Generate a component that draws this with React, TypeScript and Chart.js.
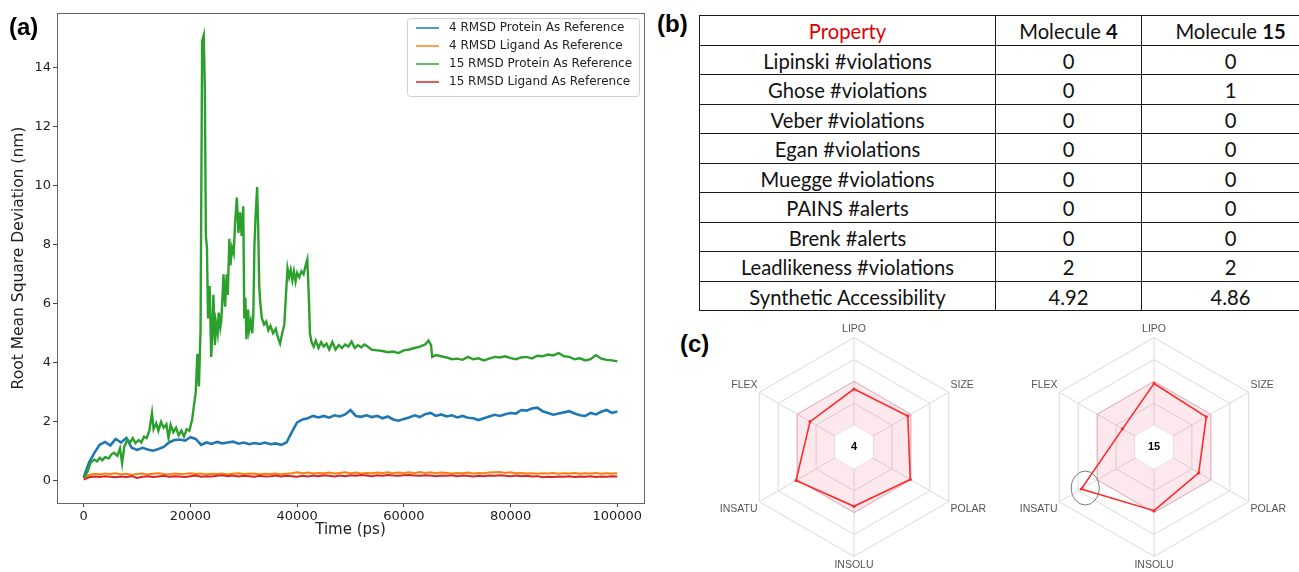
import React, { useEffect, useRef } from "react";
import { Chart, registerables } from "chart.js";
Chart.register(...registerables);

// ---------- (a) RMSD trajectories ----------
const TIME_PS = [
  0, 1000, 2000, 3000, 4000, 5000, 6000, 7000, 8000, 9000,
  10000, 11000, 12000, 13000, 14000, 15000, 16000, 17000, 18000, 19000,
  20000, 21000, 22000, 23000, 24000, 25000, 26000, 27000, 28000, 29000,
  30000, 31000, 32000, 33000, 34000, 35000, 36000, 37000, 38000, 39000,
  40000, 41000, 42000, 43000, 44000, 45000, 46000, 47000, 48000, 49000,
  50000, 51000, 52000, 53000, 54000, 55000, 56000, 57000, 58000, 59000,
  60000, 61000, 62000, 63000, 64000, 65000, 66000, 67000, 68000, 69000,
  70000, 71000, 72000, 73000, 74000, 75000, 76000, 77000, 78000, 79000,
  80000, 81000, 82000, 83000, 84000, 85000, 86000, 87000, 88000, 89000,
  90000, 91000, 92000, 93000, 94000, 95000, 96000, 97000, 98000, 99000,
  100000,
];

const RMSD_4_PROTEIN = [
  0.12, 0.62, 0.95, 1.22, 1.32, 1.2, 1.42, 1.3, 1.45, 1.12,
  1.05, 1.12, 1.06, 1.02, 1.08, 1.15, 1.3, 1.38, 1.4, 1.36,
  1.48, 1.42, 1.22, 1.3, 1.25, 1.32, 1.27, 1.3, 1.33, 1.26,
  1.3, 1.24, 1.28, 1.25, 1.3, 1.24, 1.27, 1.22, 1.3, 1.65,
  1.98, 2.08, 2.12, 2.2, 2.15, 2.2, 2.14, 2.22, 2.18, 2.25,
  2.4, 2.2, 2.17, 2.22, 2.16, 2.2, 2.12, 2.18, 2.08, 2.04,
  2.1, 2.15, 2.22, 2.16, 2.26, 2.3, 2.2, 2.25, 2.18, 2.22,
  2.15, 2.2, 2.14, 2.12, 2.06, 2.12, 2.18, 2.24, 2.2, 2.26,
  2.3, 2.28, 2.4, 2.38, 2.45, 2.48, 2.36, 2.3, 2.24, 2.28,
  2.32, 2.36, 2.28, 2.22, 2.2, 2.3, 2.25, 2.34, 2.4, 2.3,
  2.35,
];

const RMSD_4_LIGAND = [
  0.1, 0.2, 0.24, 0.22, 0.25, 0.23, 0.26, 0.22, 0.24, 0.21,
  0.23, 0.25, 0.22, 0.24, 0.26, 0.23, 0.22, 0.25, 0.23, 0.24,
  0.26, 0.23, 0.25, 0.22, 0.24, 0.23, 0.25, 0.22, 0.24, 0.26,
  0.23, 0.25, 0.24, 0.22, 0.24, 0.23, 0.25, 0.22, 0.24, 0.26,
  0.29, 0.26, 0.28, 0.25, 0.27, 0.26, 0.28, 0.25, 0.27, 0.29,
  0.26, 0.28, 0.25, 0.27, 0.26, 0.28, 0.27, 0.29, 0.26, 0.28,
  0.27, 0.29, 0.26, 0.3, 0.27, 0.29, 0.26, 0.28, 0.27, 0.25,
  0.27, 0.26, 0.28, 0.25, 0.27, 0.26, 0.28, 0.29, 0.3, 0.27,
  0.29, 0.26, 0.27, 0.25, 0.26, 0.24, 0.26, 0.25, 0.27, 0.24,
  0.26, 0.25, 0.27, 0.24, 0.26, 0.25, 0.27, 0.24, 0.26, 0.25,
  0.26,
];

const RMSD_15_LIGAND = [
  0.04, 0.12, 0.15, 0.13, 0.16, 0.14, 0.12, 0.15, 0.13, 0.16,
  0.1, 0.14, 0.16, 0.13, 0.15, 0.17, 0.14, 0.16, 0.15, 0.13,
  0.16, 0.18, 0.14, 0.16, 0.15, 0.17, 0.19, 0.16, 0.18, 0.15,
  0.17, 0.16, 0.14, 0.17, 0.15, 0.16, 0.18, 0.15, 0.17, 0.16,
  0.14, 0.17, 0.15, 0.18, 0.16, 0.19, 0.17, 0.15, 0.18, 0.16,
  0.19, 0.17, 0.2, 0.18, 0.16, 0.19, 0.17, 0.2, 0.18, 0.17,
  0.19, 0.2, 0.18, 0.17, 0.19, 0.18, 0.16, 0.18, 0.17, 0.19,
  0.16, 0.18, 0.17, 0.15, 0.17, 0.16, 0.18, 0.17, 0.19, 0.17,
  0.16, 0.18, 0.16, 0.17, 0.15, 0.16, 0.12, 0.14, 0.13, 0.15,
  0.14, 0.16, 0.13, 0.15, 0.14, 0.16, 0.13, 0.15, 0.14, 0.16,
  0.15,
];

const TIME_15_PROTEIN_PS = [
  0, 700, 1300, 2000, 2500, 3000, 3500, 4000, 4700, 5200,
  5700, 6300, 6800, 7200, 7600, 8200, 8700, 9200, 9700, 10300,
  10800, 11300, 11800, 12300, 12800, 13100, 13600, 14000, 14500, 15000,
  15500, 15900, 16300, 16800, 17300, 17800, 18300, 18800, 19300, 19800,
  20300, 20700, 21000, 21300, 21600, 21900, 22200, 22500, 22700, 22900,
  23100, 23300, 23600, 23900, 24100, 24300, 24600, 24800, 25100, 25300,
  25600, 25800, 26000, 26200, 26500, 26800, 27000, 27300, 27500, 27800,
  28100, 28400, 28700, 29000, 29300, 29600, 29900, 30100, 30300, 30500,
  30800, 31000, 31300, 31600, 31800, 32000, 32200, 32500, 32700, 32900,
  33100, 33400, 33800, 34200, 34600, 35000, 35500, 36000, 36400, 36800,
  37200, 37600, 38000, 38200, 38500, 38800, 39100, 39400, 39700, 40000,
  40400, 40800, 41200, 41600, 41900, 42200, 42400, 42700, 43100, 43500,
  44000, 44500, 45000, 45500, 46000, 46600, 47200, 47800, 48400, 49000,
  49600, 50200, 50800, 51400, 52000, 52600, 53200, 54000, 55000, 56000,
  57000, 58000, 59000, 60000, 61000, 62000, 63000, 64000, 64600, 65100,
  65300, 66000, 67000, 68000, 69000, 70000, 71000, 72000, 73000, 74000,
  75000, 76000, 77000, 78000, 79000, 80000, 81000, 82000, 83000, 84000,
  85000, 86000, 87000, 88000, 89000, 90000, 91000, 92000, 93000, 94000,
  95000, 96000, 97000, 98000, 99000, 100000,
];

const RMSD_15_PROTEIN = [
  0.09, 0.3, 0.62, 0.72, 0.66, 0.78, 0.7, 0.8, 0.76, 0.9,
  0.95, 0.85, 1.1, 0.6, 1.15, 1.4, 1.3, 1.45, 1.28, 1.38,
  1.3, 1.5, 1.45, 1.7, 2.3, 1.75, 1.95, 1.7, 2.0, 1.8,
  1.92, 1.45, 1.9, 1.65, 1.8, 1.55, 1.7, 1.5, 1.75, 1.7,
  2.05, 2.6, 3.0, 4.3, 3.2, 5.1, 14.9, 15.1, 13.3, 8.3,
  7.9, 5.5, 6.6, 4.2, 5.0, 6.3, 4.6, 5.35, 5.0, 5.7,
  5.2, 5.45, 6.2, 7.0, 5.9, 7.0, 6.3, 8.2, 7.3, 7.9,
  7.7, 8.8, 9.6, 8.4, 9.1, 8.3, 9.3, 5.5, 6.2, 4.8,
  5.8, 5.1, 5.4, 5.0, 5.7, 8.0, 8.9, 9.95, 8.6, 6.6,
  6.0, 5.5, 5.3, 5.4, 5.1, 5.25, 5.0, 5.15, 4.85, 4.65,
  5.0, 5.3, 6.6, 7.2, 6.9, 7.15, 6.8, 7.1, 6.75, 7.05,
  6.9, 7.1, 7.0, 7.3, 7.5, 6.2, 5.0, 4.7, 4.55, 4.75,
  4.5, 4.7, 4.55, 4.65, 4.45, 4.7, 4.45, 4.6, 4.5, 4.62,
  4.55, 4.72, 4.5, 4.6, 4.52, 4.62, 4.55, 4.44, 4.42, 4.4,
  4.36, 4.38, 4.33, 4.42, 4.45, 4.5, 4.55, 4.62, 4.75, 4.6,
  4.2, 4.26, 4.22, 4.18, 4.12, 4.14, 4.1, 4.2, 4.12, 4.15,
  4.08, 4.14, 4.2, 4.18, 4.22, 4.16, 4.12, 4.18, 4.2, 4.15,
  4.24, 4.22, 4.28, 4.25, 4.33, 4.22, 4.2, 4.12, 4.15, 4.08,
  4.12, 4.26, 4.14, 4.1, 4.08, 4.05,
];

const SERIES_LABELS = [
  "4 RMSD Protein As Reference",
  "4 RMSD Ligand As Reference",
  "15 RMSD Protein As Reference",
  "15 RMSD Ligand As Reference",
];
const SERIES_COLORS = ["#1f77b4", "#ff7f0e", "#2ca02c", "#d62728"];
const X_TICKS = [0, 20000, 40000, 60000, 80000, 100000];
const Y_TICKS = [0, 2, 4, 6, 8, 10, 12, 14];

// ---------- (b) drug-likeness table ----------
const PROPERTIES = [
  "Lipinski #violations",
  "Ghose #violations",
  "Veber #violations",
  "Egan #violations",
  "Muegge #violations",
  "PAINS #alerts",
  "Brenk #alerts",
  "Leadlikeness #violations",
  "Synthetic Accessibility",
];
const MOLECULE_4 = ["0", "0", "0", "0", "0", "0", "0", "2", "4.92"];
const MOLECULE_15 = ["0", "1", "0", "0", "0", "0", "0", "2", "4.86"];

// ---------- (c) bioavailability radars ----------
const RADAR_AXES = ["LIPO", "SIZE", "POLAR", "INSOLU", "INSATU", "FLEX"];
const RADAR_4 = [2.65, 2.84, 2.97, 2.71, 3.06, 2.32];
const RADAR_15 = [2.9, 2.76, 2.36, 2.91, 3.84, 1.66];
const OPTIMAL_UPPER = [3, 3, 3, 3, 3, 3];
const OPTIMAL_LOWER = [1, 1, 1, 1, 1, 1];

const FONT = "DejaVu Sans";

const framePlugin = {
  id: "frame",
  afterDatasetsDraw(chart: any) {
    const { ctx, chartArea: a } = chart;
    ctx.save();
    ctx.strokeStyle = "#666";
    ctx.lineWidth = 1;
    ctx.strokeRect(a.left + 0.5, a.top + 0.5, a.right - a.left, a.bottom - a.top);
    ctx.restore();
  },
};

const boxLegendPlugin = {
  id: "boxLegend",
  afterDraw(chart: any) {
    const { ctx, chartArea: a } = chart;
    const ds = chart.data.datasets;
    const w = 232;
    const rowH = 18;
    const h = ds.length * rowH + 6;
    const x = a.right - 5 - w;
    const y = a.top + 5;
    ctx.save();
    ctx.beginPath();
    ctx.roundRect(x + 0.5, y + 0.5, w, h, 3);
    ctx.fillStyle = "rgba(255,255,255,0.85)";
    ctx.fill();
    ctx.strokeStyle = "#d0d0d0";
    ctx.lineWidth = 1;
    ctx.stroke();
    ctx.font = `12px "${FONT}"`;
    ctx.textBaseline = "middle";
    ds.forEach((d: any, i: number) => {
      const cy = y + 10 + i * rowH;
      ctx.strokeStyle = d.borderColor;
      ctx.lineWidth = 1.5;
      ctx.beginPath();
      ctx.moveTo(x + 9, cy);
      ctx.lineTo(x + 32, cy);
      ctx.stroke();
      ctx.fillStyle = "#222";
      ctx.fillText(d.label, x + 42, cy);
    });
    ctx.restore();
  },
};

function RmsdChart() {
  const ref = useRef<HTMLCanvasElement>(null);
  useEffect(() => {
    const series = [
      { t: TIME_PS, v: RMSD_4_PROTEIN, order: 4, w: 2.6 },
      { t: TIME_PS, v: RMSD_4_LIGAND, order: 3, w: 2 },
      { t: TIME_15_PROTEIN_PS, v: RMSD_15_PROTEIN, order: 2, w: 2.4 },
      { t: TIME_PS, v: RMSD_15_LIGAND, order: 1, w: 2 },
    ];
    const chart = new Chart(ref.current as HTMLCanvasElement, {
      type: "line",
      data: {
        datasets: series.map((s, i) => ({
          label: SERIES_LABELS[i],
          data: s.t.map((t, j) => ({ x: t, y: s.v[j] })),
          borderColor: SERIES_COLORS[i],
          backgroundColor: SERIES_COLORS[i],
          borderWidth: s.w,
          pointRadius: 0,
          tension: 0,
          fill: false,
          order: s.order,
        })),
      },
      options: {
        animation: false,
        responsive: false,
        devicePixelRatio: 1,
        layout: { padding: { top: 13, left: 0, right: 6, bottom: 0 } },
        plugins: { legend: { display: false }, tooltip: { enabled: false } },
        scales: {
          x: {
            type: "linear",
            min: -5000,
            max: 105000,
            afterBuildTicks: (s: any) => {
              s.ticks = X_TICKS.map((v) => ({ value: v }));
            },
            afterFit: (s: any) => {
              s.height = 69;
            },
            ticks: {
              callback: (v: any) => String(v),
              font: { family: FONT, size: 13 },
              color: "#222",
              padding: 2,
              maxRotation: 0,
              autoSkip: false,
            },
            grid: { drawOnChartArea: false, drawTicks: true, tickLength: 4, color: "#444" },
            border: { display: true, color: "#666" },
            title: {
              display: true,
              text: "Time (ps)",
              font: { family: FONT, size: 15 },
              color: "#222",
              padding: { top: 33, bottom: 33 },
            },
          },
          y: {
            type: "linear",
            min: -0.75,
            max: 15.85,
            afterBuildTicks: (s: any) => {
              s.ticks = Y_TICKS.map((v) => ({ value: v }));
            },
            afterFit: (s: any) => {
              s.width = 57;
            },
            ticks: {
              callback: (v: any) => String(v),
              font: { family: FONT, size: 13 },
              color: "#222",
              padding: 2,
              autoSkip: false,
            },
            grid: { drawOnChartArea: false, drawTicks: true, tickLength: 4, color: "#444" },
            border: { display: true, color: "#666" },
            title: {
              display: true,
              text: "Root Mean Square Deviation (nm)",
              font: { family: FONT, size: 15.5 },
              color: "#222",
              padding: { top: 10, bottom: 0 },
            },
          },
        },
      } as any,
      plugins: [framePlugin, boxLegendPlugin],
    });
    return () => chart.destroy();
  }, []);
  return (
    <canvas
      ref={ref}
      width={650}
      height={572}
      style={{ position: "absolute", left: 0, top: 0, width: 650, height: 572 }}
    />
  );
}

function Radar({
  values,
  centerLabel,
  highlight,
  left,
}: {
  values: number[];
  centerLabel: string;
  highlight: number;
  left: number;
}) {
  const ref = useRef<HTMLCanvasElement>(null);
  useEffect(() => {
    const overlay = {
      id: "radarOverlay",
      afterDatasetsDraw(chart: any) {
        const { ctx } = chart;
        const r = chart.scales.r;
        ctx.save();
        ctx.font = 'bold 11px "Liberation Sans"';
        ctx.fillStyle = "#000";
        ctx.textAlign = "center";
        ctx.textBaseline = "middle";
        ctx.fillText(centerLabel, r.xCenter, r.yCenter);
        if (highlight >= 0) {
          const p = r.getPointPositionForValue(highlight, values[highlight]);
          ctx.beginPath();
          ctx.ellipse(p.x + 4, p.y - 1, 14, 17, 0, 0, Math.PI * 2);
          ctx.strokeStyle = "#777";
          ctx.lineWidth = 1;
          ctx.stroke();
        }
        ctx.restore();
      },
    };
    const chart = new Chart(ref.current as HTMLCanvasElement, {
      type: "radar",
      data: {
        labels: RADAR_AXES,
        datasets: [
          {
            data: values,
            borderColor: "#ff2a2a",
            backgroundColor: "#ff2a2a",
            borderWidth: 1.6,
            pointRadius: 1.6,
            pointBorderWidth: 0,
            pointBackgroundColor: "#ff2a2a",
            fill: false,
          },
          {
            data: OPTIMAL_LOWER,
            borderColor: "rgba(0,0,0,0)",
            borderWidth: 0,
            backgroundColor: "#ffffff",
            pointRadius: 0,
            fill: "origin",
          },
          {
            data: OPTIMAL_UPPER,
            borderColor: "rgba(240,120,150,0.45)",
            borderWidth: 1,
            backgroundColor: "rgba(240,80,120,0.13)",
            pointRadius: 0,
            fill: "origin",
          },
        ],
      },
      options: {
        animation: false,
        responsive: false,
        devicePixelRatio: 1,
        layout: { padding: 0 },
        plugins: { legend: { display: false }, tooltip: { enabled: false } },
        scales: {
          r: {
            min: 0,
            max: 5,
            ticks: { display: false, stepSize: 1 },
            grid: { color: "#dadada", lineWidth: 1 },
            angleLines: { color: "#dadada", lineWidth: 1 },
            pointLabels: {
              font: { family: "Liberation Sans", size: 10.5 },
              color: "#555",
              padding: 2,
            },
          },
        },
      } as any,
      plugins: [overlay],
    });
    return () => chart.destroy();
  }, [values, centerLabel, highlight]);
  return (
    <canvas
      ref={ref}
      width={300}
      height={249}
      style={{ position: "absolute", left, top: 323, width: 300, height: 249 }}
    />
  );
}

const panelLabel: React.CSSProperties = {
  position: "absolute",
  fontFamily: "Liberation Sans",
  fontWeight: "bold",
  fontSize: 24,
  lineHeight: "24px",
  color: "#000",
};

const cell: React.CSSProperties = {
  border: "1.5px solid #1a1a1a",
  padding: "2px 0 0 0",
  textAlign: "center",
  verticalAlign: "middle",
  height: 26,
  lineHeight: "20px",
  whiteSpace: "nowrap",
  boxSizing: "border-box",
};

export default function App() {
  return (
    <div
      style={{
        position: "fixed",
        left: 0,
        top: 0,
        width: 1299,
        height: 572,
        overflow: "hidden",
        background: "#fff",
      }}
    >
      <RmsdChart />
      <div style={{ ...panelLabel, left: 9, top: 15 }}>(a)</div>
      <div style={{ ...panelLabel, left: 657, top: 12 }}>(b)</div>
      <div style={{ ...panelLabel, left: 680, top: 332 }}>(c)</div>

      <table
        style={{
          position: "absolute",
          left: 699,
          top: 15,
          borderCollapse: "collapse",
          tableLayout: "fixed",
          width: 620,
          fontFamily: "Lato",
          fontSize: 20.2,
          color: "#111",
        }}
      >
        <colgroup>
          <col style={{ width: 296 }} />
          <col style={{ width: 146 }} />
          <col style={{ width: 178 }} />
        </colgroup>
        <tbody>
          <tr style={{ height: 29.5 }}>
            <td style={{ ...cell, color: "#e00000" }}>Property</td>
            <td style={cell}>
              Molecule <b>4</b>
            </td>
            <td style={cell}>
              Molecule <b>15</b>
            </td>
          </tr>
          {PROPERTIES.map((p, i) => (
            <tr key={p} style={{ height: 29.5 }}>
              <td style={cell}>{p}</td>
              <td style={cell}>{MOLECULE_4[i]}</td>
              <td style={cell}>{MOLECULE_15[i]}</td>
            </tr>
          ))}
        </tbody>
      </table>

      <Radar values={RADAR_4} centerLabel="4" highlight={-1} left={704} />
      <Radar values={RADAR_15} centerLabel="15" highlight={4} left={1004} />
    </div>
  );
}
